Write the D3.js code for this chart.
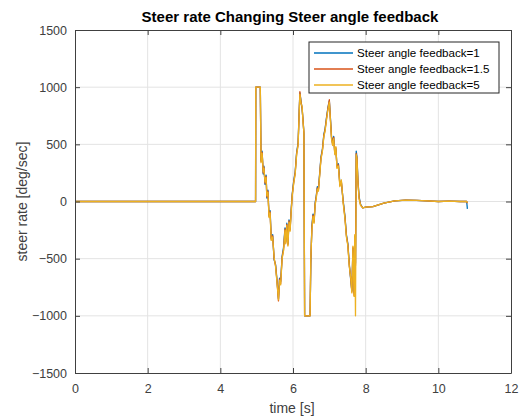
<!DOCTYPE html>
<html>
<head>
<meta charset="utf-8">
<script src="https://cdn.jsdelivr.net/npm/d3@7"></script>
<style>
  body { margin: 0; background: #fff; }
  svg { font-family: "Liberation Sans", Arial, sans-serif; }
</style>
</head>
<body>
<div id="chart"></div>
<script>
// ---- data ----
const seriesNames = ["Steer angle feedback=1", "Steer angle feedback=1.5", "Steer angle feedback=5"];
const seriesColors = ["#0072BD", "#D95319", "#EDB120"];
const xTicks = [0, 2, 4, 6, 8, 10, 12];
const yTicks = [-1500, -1000, -500, 0, 500, 1000, 1500];

const time = [0, 4.97, 4.975, 5.1, 5.12, 5.15, 5.18, 5.2, 5.23, 5.26, 5.28, 5.31, 5.34, 5.37, 5.4,
  5.44, 5.48, 5.52, 5.56, 5.6, 5.63, 5.66, 5.7, 5.74, 5.78, 5.8, 5.83, 5.86, 5.89, 5.92,
  5.95, 5.98, 6.02, 6.06, 6.1, 6.14, 6.17, 6.19, 6.22, 6.25, 6.28, 6.3, 6.32, 6.47, 6.49,
  6.52, 6.55, 6.58, 6.61, 6.64, 6.67, 6.7, 6.74, 6.77, 6.81, 6.85, 6.88, 6.92, 6.96, 7.0,
  7.03, 7.06, 7.09, 7.12, 7.15, 7.18, 7.21, 7.25, 7.29, 7.33, 7.38, 7.43, 7.47, 7.51, 7.55,
  7.59, 7.62, 7.65, 7.68, 7.7, 7.72, 7.74, 7.76, 7.79, 7.82, 7.86, 7.92, 8.0, 8.2, 8.5,
  8.8, 9.1, 9.4, 9.7, 10.0, 10.3, 10.6, 10.78, 10.8];

const fb1 = [0, 0, 1000, 1000, 360, 440, 240, 310, 150, 230, 30, 100, -120, -80, -320,
  -290, -510, -550, -690, -850, -670, -700, -480, -400, -230, -350, -190, -370, -160, -240,
  -70, 70, 180, 260, 430, 510, 790, 950, 880, 810, 700, 590, -1000, -1000, -540,
  -210, -110, -170, -10, 50, 130, 110, 270, 390, 460, 590, 630, 730, 820, 880,
  730, 570, 510, 570, 430, 460, 310, 330, 150, 170, 10, -130, -290, -370, -550,
  -690, -780, -410, -800, -310, -540, 440, 390, 170, 40, -25, -55, -50, -45, -15,
  5, 12, 10, 5, 0, 3, 0, 0, -65];

const fb15 = [0, 0, 1000, 1000, 350, 430, 250, 300, 160, 220, 40, 90, -130, -90, -330,
  -300, -500, -560, -700, -870, -680, -720, -490, -420, -240, -360, -200, -380, -170, -250,
  -80, 60, 170, 250, 420, 500, 780, 960, 870, 820, 690, 600, -1000, -1000, -520,
  -230, -120, -180, -20, 40, 120, 100, 260, 380, 450, 580, 620, 720, 810, 890,
  720, 560, 500, 560, 420, 470, 300, 320, 140, 180, 0, -140, -300, -380, -560,
  -680, -790, -400, -820, -300, -560, 420, 380, 160, 30, -30, -55, -50, -45, -15,
  5, 12, 10, 5, 0, 3, 0, 0, -15];

const fb5 = [0, 0, 1000, 1000, 340, 420, 260, 290, 170, 210, 50, 80, -140, -100, -340,
  -310, -490, -570, -710, -860, -690, -730, -500, -430, -250, -370, -210, -390, -180, -260,
  -90, 50, 160, 240, 410, 490, 770, 940, 860, 830, 680, 610, -1000, -1000, -500,
  -250, -130, -190, -30, 30, 110, 90, 250, 370, 440, 570, 610, 710, 800, 870,
  710, 550, 490, 550, 410, 480, 290, 310, 130, 190, -10, -150, -310, -390, -570,
  -670, -800, -390, -830, -290, -1000, 410, 370, 150, 20, -35, -55, -50, -45, -15,
  5, 12, 10, 5, 0, 3, 0, 0, -10];

const allSeries = [fb1, fb15, fb5];

// ---- layout ----
const W = 525, H = 419;
const margin = { top: 30, right: 14, bottom: 46, left: 75 };
const iw = W - margin.left - margin.right;
const ih = H - margin.top - margin.bottom;
const axisColor = "#404040";

const svg = d3.select("#chart").append("svg")
  .attr("width", W).attr("height", H);

const x = d3.scaleLinear().domain([0, 12]).range([0, iw]);
const y = d3.scaleLinear().domain([-1500, 1500]).range([ih, 0]);

const g = svg.append("g").attr("transform", `translate(${margin.left},${margin.top})`);

// grid
g.append("g").selectAll("line").data(xTicks.slice(1, -1)).join("line")
  .attr("x1", d => x(d)).attr("x2", d => x(d))
  .attr("y1", 0).attr("y2", ih)
  .attr("stroke", "#e3e3e3").attr("stroke-width", 1);
g.append("g").selectAll("line").data(yTicks.slice(1, -1)).join("line")
  .attr("x1", 0).attr("x2", iw)
  .attr("y1", d => y(d)).attr("y2", d => y(d))
  .attr("stroke", "#e3e3e3").attr("stroke-width", 1);

// lines
const line = d3.line().x((d, i) => x(time[i])).y(d => y(d));
g.append("g").selectAll("path").data(allSeries).join("path")
  .attr("d", d => line(d))
  .attr("fill", "none")
  .attr("stroke", (d, i) => seriesColors[i])
  .attr("stroke-width", 1.3)
  .attr("stroke-linejoin", "round");

// axes (inward ticks on all sides, like a boxed plot)
const fmt = d3.format("d");
const xAxis = g.append("g").attr("transform", `translate(0,${ih})`)
  .call(d3.axisBottom(x).tickValues(xTicks).tickFormat(fmt).tickSizeInner(-5).tickSizeOuter(0).tickPadding(12));
const yAxis = g.append("g")
  .call(d3.axisLeft(y).tickValues(yTicks).tickFormat(fmt).tickSizeInner(-5).tickSizeOuter(0).tickPadding(8));
const xTop = g.append("g")
  .call(d3.axisTop(x).tickValues(xTicks).tickSizeInner(-5).tickSizeOuter(0).tickFormat(""));
const yRight = g.append("g").attr("transform", `translate(${iw},0)`)
  .call(d3.axisRight(y).tickValues(yTicks).tickSizeInner(-5).tickSizeOuter(0).tickFormat(""));

[xAxis, yAxis, xTop, yRight].forEach(a => {
  a.selectAll("path").attr("stroke", axisColor);
  a.selectAll("line").attr("stroke", axisColor);
  a.selectAll("text").attr("fill", axisColor).style("font-size", "12.5px");
});
xAxis.selectAll("text").attr("dy", "0.6em");

// title and labels
svg.append("text")
  .attr("x", 290).attr("y", 22)
  .attr("text-anchor", "middle")
  .attr("fill", "#000")
  .style("font-size", "15px").style("font-weight", "bold")
  .text("Steer rate Changing Steer angle feedback");

svg.append("text")
  .attr("x", 292).attr("y", 413)
  .attr("text-anchor", "middle")
  .attr("fill", axisColor)
  .style("font-size", "14px")
  .text("time [s]");

svg.append("text")
  .attr("transform", `translate(27,${margin.top + ih / 2}) rotate(-90)`)
  .attr("text-anchor", "middle")
  .attr("fill", axisColor)
  .style("font-size", "14px")
  .text("steer rate [deg/sec]");

// legend
const lg = svg.append("g").attr("transform", "translate(309,42)");
lg.append("rect")
  .attr("width", 190).attr("height", 51)
  .attr("fill", "#fff").attr("stroke", "#262626").attr("stroke-width", 1);
const rows = lg.selectAll("g.row").data(seriesNames).join("g")
  .attr("class", "row")
  .attr("transform", (d, i) => `translate(0,${11 + i * 16})`);
rows.append("line")
  .attr("x1", 5).attr("x2", 44)
  .attr("stroke", (d, i) => seriesColors[i]).attr("stroke-width", 1.3);
rows.append("text")
  .attr("x", 48).attr("dy", "0.35em")
  .attr("fill", "#000")
  .style("font-size", "11.6px")
  .text(d => d);
</script>
</body>
</html>
